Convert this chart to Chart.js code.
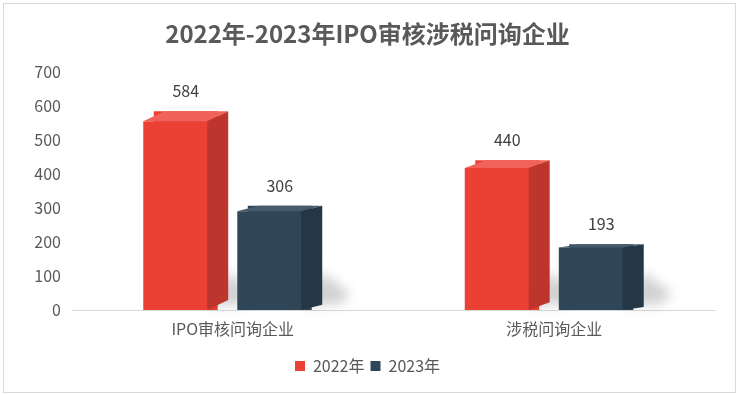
<!DOCTYPE html>
<html><head><meta charset="utf-8">
<script src="https://cdn.jsdelivr.net/npm/chart.js@4"></script>
<style>html,body{margin:0;padding:0;background:#fff;}#wrap{width:740px;height:395px;position:relative;}</style>
</head><body><div id="wrap"><canvas id="c" width="740" height="395"></canvas></div>
<script>
const categories = ['IPO审核问询企业', '涉税问询企业'];
const seriesNames = ['2022年', '2023年'];
const values2022 = [584, 440];
const values2023 = [306, 193];
const yTicks = [0, 100, 200, 300, 400, 500, 600, 700];

const FONT = "'Noto Sans CJK SC', 'Noto Sans', sans-serif";
const faces = [
  {front: '#EB4135', top: '#F0625A', side: '#BE352D', dy: 10},
  {front: '#2E4657', top: '#475B6A', side: '#243746', dy: 6}
];
const DX = 21;

const bar3d = {
  id: 'bar3d',
  beforeDraw(chart) {
    const ctx = chart.ctx;
    ctx.save();
    ctx.strokeStyle = '#D9D9D9';
    ctx.lineWidth = 1;
    ctx.strokeRect(3.5, 3.5, 732, 389);
    ctx.restore();
  },
  afterDatasetsDraw(chart) {
    const ctx = chart.ctx;
    const x0 = chart.chartArea.left;
    // shadows
    chart.data.datasets.forEach((ds, di) => {
      const meta = chart.getDatasetMeta(di);
      meta.data.forEach((bar) => {
        const w = bar.width;
        const fr = bar.x - DX / 2 + w / 2;
        const base = bar.base;
        ctx.save();
        ctx.filter = 'blur(6px)';
        ctx.fillStyle = 'rgba(0,0,0,0.18)';
        ctx.beginPath();
        ctx.moveTo(fr, base - 4);
        ctx.lineTo(fr + DX, base - 38);
        ctx.lineTo(fr + DX + 28, base - 16);
        ctx.lineTo(fr + DX + 18, base - 6);
        ctx.closePath();
        ctx.fill();
        ctx.restore();
      });
    });
    chart.data.datasets.forEach((ds, di) => {
      const meta = chart.getDatasetMeta(di);
      const f = faces[di];
      meta.data.forEach((bar, idx) => {
        const w = bar.width;
        const fl = bar.x - DX / 2 - w / 2;
        const fr = fl + w;
        const dy = Math.max(2, f.dy - 0.007 * (fl - x0 - 70));
        const backTop = bar.y;
        const frontTop = bar.y + dy;
        const base = bar.base;
        ctx.save();
        ctx.fillStyle = f.front;
        ctx.fillRect(fl, frontTop, w, base - frontTop);
        ctx.fillStyle = f.top;
        ctx.beginPath();
        ctx.moveTo(fl, frontTop);
        ctx.lineTo(fr, frontTop);
        ctx.lineTo(fr + DX, backTop);
        ctx.lineTo(fl + DX, backTop);
        ctx.closePath();
        ctx.fill();
        ctx.fillStyle = f.side;
        ctx.beginPath();
        ctx.moveTo(fr, frontTop);
        ctx.lineTo(fr + DX, backTop);
        ctx.lineTo(fr + DX, base - dy);
        ctx.lineTo(fr, base);
        ctx.closePath();
        ctx.fill();
        ctx.fillStyle = '#404040';
        ctx.font = '16px ' + FONT;
        ctx.textAlign = 'center';
        ctx.textBaseline = 'middle';
        ctx.fillText(String(ds.data[idx]), bar.x, backTop - 20);
        ctx.restore();
      });
    });
  }
};

new Chart(document.getElementById('c'), {
  type: 'bar',
  data: {
    labels: categories,
    datasets: [
      {label: seriesNames[0], data: values2022, backgroundColor: faces[0].front, borderWidth: 0},
      {label: seriesNames[1], data: values2023, backgroundColor: faces[1].front, borderWidth: 0}
    ]
  },
  options: {
    responsive: false,
    animation: false,
    devicePixelRatio: 1,
    datasets: {bar: {categoryPercentage: 0.585, barPercentage: 0.68}},
    layout: {padding: {left: 20, right: 25, top: 0, bottom: 11}},
    plugins: {
      title: {
        display: true,
        text: '2022年-2023年IPO审核涉税问询企业',
        color: '#595959',
        font: {family: FONT, size: 24, weight: 'bold'},
        padding: {top: 19, bottom: 24}
      },
      legend: {
        position: 'bottom',
        labels: {
          color: '#595959',
          font: {family: FONT, size: 16},
          boxWidth: 10, boxHeight: 10, padding: 6,
          generateLabels(chart) {
            return chart.data.datasets.map((ds, i) => ({
              text: ds.label, fillStyle: faces[i].front, strokeStyle: faces[i].front,
              lineWidth: 0, hidden: false, datasetIndex: i, fontColor: '#595959'
            }));
          }
        }
      },
      tooltip: {enabled: false}
    },
    scales: {
      x: {
        grid: {display: false, drawTicks: false},
        border: {display: true, color: '#D9D9D9', width: 1},
        ticks: {color: '#595959', font: {family: FONT, size: 16}, padding: 9},
        afterFit(s) { s.height = 42; }
      },
      y: {
        min: 0, max: 700,
        afterBuildTicks(s) { s.ticks = yTicks.map(v => ({value: v})); },
        grid: {display: false, drawTicks: false},
        border: {display: false},
        ticks: {color: '#595959', font: {family: FONT, size: 16}, padding: 11},
        afterFit(s) { s.width = 52; }
      }
    }
  },
  plugins: [bar3d]
});
</script>
</body></html>
